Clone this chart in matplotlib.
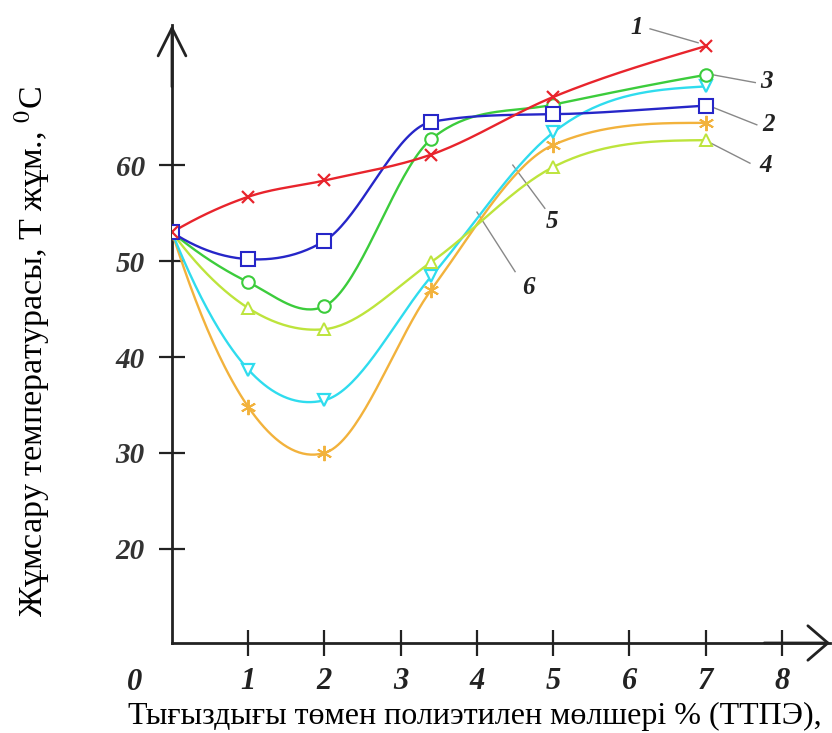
import matplotlib
matplotlib.use("Agg")
import matplotlib.pyplot as plt
import numpy as np

# Data
x = np.array([0, 1, 2, 3.4, 5, 7])
curve1 = np.array([53.0, 56.7, 58.4, 61.1, 67.1, 72.4])   # red
curve2 = np.array([53.0, 50.2, 52.1, 64.5, 65.3, 66.2])   # blue
curve3 = np.array([53.0, 47.8, 45.3, 62.7, 66.3, 69.4])   # green
curve4 = np.array([53.0, 45.1, 42.9, 49.9, 59.8, 62.6])   # yellow-green
curve5 = np.array([53.0, 38.7, 35.5, 48.4, 63.4, 68.2])   # cyan
curve6 = np.array([53.0, 34.8, 30.0, 47.0, 62.1, 64.4])   # orange

x_ticks = [1, 2, 3, 4, 5, 6, 7, 8]
y_ticks = [20, 30, 40, 50, 60]

serif = ["Liberation Serif", "DejaVu Serif"]
plt.rcParams["font.family"] = serif
plt.rcParams["mathtext.fontset"] = "stix"


def smooth(xs, ys, n=40):
    # piecewise cubic Hermite through the points, only for drawing the line
    h = np.diff(xs)
    d = np.diff(ys) / h
    m = np.zeros(len(xs))
    for i in range(1, len(xs) - 1):
        m[i] = (h[i] * d[i - 1] + h[i - 1] * d[i]) / (h[i - 1] + h[i])
    m[0] = ((2 * h[0] + h[1]) * d[0] - h[0] * d[1]) / (h[0] + h[1])
    m[-1] = (3 * d[-1] - m[-2]) / 2
    if np.sign(m[-1]) != np.sign(d[-1]):
        m[-1] = 0.0
    # Fritsch-Carlson limiting to avoid overshoot
    for i in range(len(xs) - 1):
        if d[i] == 0:
            m[i] = m[i + 1] = 0
            continue
        a, b = m[i] / d[i], m[i + 1] / d[i]
        s = a * a + b * b
        if s > 9:
            t = 3 / np.sqrt(s)
            m[i], m[i + 1] = t * a * d[i], t * b * d[i]
    xx, yy = [], []
    for i in range(len(xs) - 1):
        t = np.linspace(0, 1, n)
        h00 = 2 * t**3 - 3 * t**2 + 1
        h10 = t**3 - 2 * t**2 + t
        h01 = -2 * t**3 + 3 * t**2
        h11 = t**3 - t**2
        xx.append(xs[i] + t * h[i])
        yy.append(h00 * ys[i] + h10 * h[i] * m[i] + h01 * ys[i + 1] + h11 * h[i] * m[i + 1])
    return np.concatenate(xx), np.concatenate(yy)


fig = plt.figure(figsize=(8.32, 7.33), dpi=100)
ax = fig.add_axes([172 / 832, 90 / 733, 658 / 832, 618 / 733])
ax.set_xlim(0, 8.63)
ax.set_ylim(10.2, 74.6)

styles = [
    (curve6, "#f2b23c", dict(marker=(6, 2, 0), ms=11, mew=1.4)),
    (curve5, "#2fdcee", dict(marker="v", ms=8, mfc="white", mew=1.6)),
    (curve4, "#bde43c", dict(marker="^", ms=8, mfc="white", mew=1.4)),
    (curve3, "#3ccc3c", dict(marker="o", ms=9, mfc="white", mew=1.5)),
    (curve2, "#2626c8", dict(marker="s", ms=9.5, mfc="white", mew=1.5)),
    (curve1, "#e8242c", dict(marker="x", ms=9, mew=1.6)),
]
for ys, color, mk in styles:
    sx, sy = smooth(x, ys)
    ax.plot(sx, sy, color=color, lw=1.7, zorder=3)
    ax.plot(x, ys, ls="none", color=color, mec=color, zorder=4, **mk)

# axes with arrows
for side in ["top", "right"]:
    ax.spines[side].set_visible(False)
for side in ["left", "bottom"]:
    ax.spines[side].set_linewidth(2)
    ax.spines[side].set_color("#222222")
ax.annotate("", xy=(0, 1), xytext=(0, 0.9), xycoords="axes fraction",
            arrowprops=dict(arrowstyle="->,head_length=1.0,head_width=0.5",
                            lw=2, color="#222222", mutation_scale=20, shrinkA=0, shrinkB=0))
ax.annotate("", xy=(1, 0), xytext=(0.9, 0), xycoords="axes fraction",
            arrowprops=dict(arrowstyle="->,head_length=0.72,head_width=0.62",
                            lw=2, color="#222222", mutation_scale=20, shrinkA=0, shrinkB=0))

ax.set_xticks(x_ticks)
ax.set_yticks(y_ticks)
ax.tick_params(direction="inout", length=19, width=1.6, color="#222222")
ax.tick_params(axis="x", pad=8)
ax.tick_params(axis="y", pad=10)
for lab in ax.get_xticklabels():
    lab.set_fontsize(22)
    lab.set_style("italic")
    lab.set_weight("bold")
    lab.set_color("#222222")
for lab in ax.get_yticklabels():
    lab.set_fontsize(21)
    lab.set_style("italic")
    lab.set_weight("bold")
    lab.set_color("#333333")
ax.text(-0.485, 10.2 - 4.07, "0", fontsize=22, style="italic", weight="bold",
        color="#222222", ha="center", va="center", clip_on=False)

# curve numbers with leader lines
labels = [
    ("1", (6.09, 74.3), (6.27, 74.2), (6.90, 72.75)),
    ("3", (7.79, 68.7), (7.65, 68.6), (7.10, 69.4)),
    ("2", (7.82, 64.2), (7.67, 64.2), (7.10, 66.0)),
    ("4", (7.78, 60.0), (7.58, 60.2), (7.04, 62.4)),
    ("5", (4.98, 54.1), (4.89, 55.5), (4.47, 60.0)),
    ("6", (4.67, 47.2), (4.50, 48.9), (4.00, 55.1)),
]
for txt, pos, a, b in labels:
    ax.plot([a[0], b[0]], [a[1], b[1]], color="#888888", lw=1.0, zorder=2, clip_on=False)
    ax.text(pos[0], pos[1], txt, fontsize=18, style="italic", weight="bold",
            color="#222222", ha="center", va="center", clip_on=False)

fig.text(475 / 832, 1 - 716 / 733, "Тығыздығы төмен полиэтилен мөлшері % (ТТПЭ),",
         fontsize=23, ha="center", va="center")
fig.text(32 / 832, 1 - 352 / 733, "Жұмсару температурасы, Т жұм., $^{0}$С",
         fontsize=24.5, rotation=90, ha="center", va="center")

fig.savefig("out.png", dpi=100)
